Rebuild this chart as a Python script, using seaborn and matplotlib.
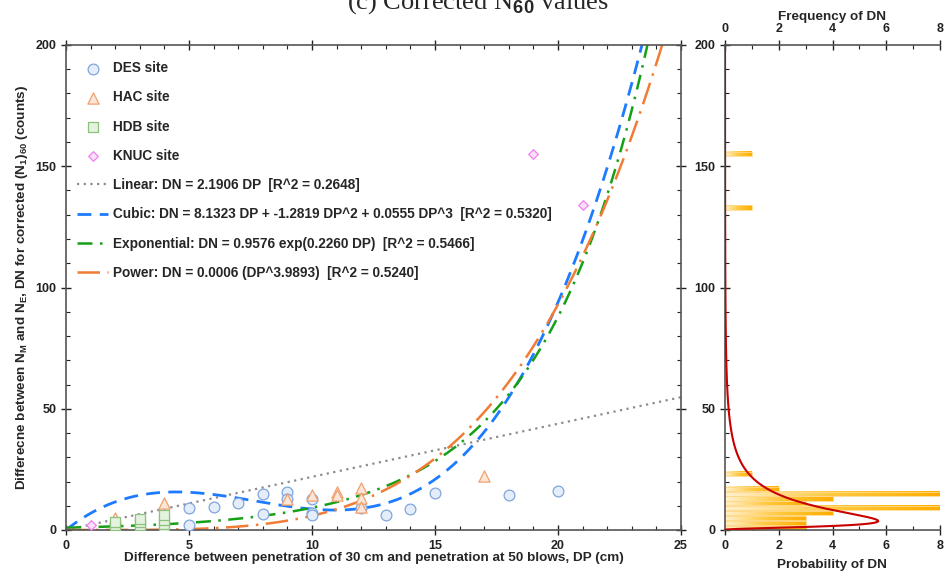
import numpy as np
import pandas as pd
import matplotlib.pyplot as plt
import seaborn as sns
from matplotlib.colors import LinearSegmentedColormap
from matplotlib.ticker import MultipleLocator

# --- data ---
des_dp = [5, 5, 6, 7, 8, 8, 9, 9, 10, 10, 10, 12, 13, 14, 15, 18, 20]
des_dn = [9, 2, 9.5, 11, 15, 6.6, 15.7, 12.8, 12.8, 7, 6.2, 9, 6.2, 8.6, 15.3, 14.4, 16]
hac_dp = [2, 4, 9, 10, 11, 11, 12, 12, 12, 17]
hac_dn = [5, 11, 12.8, 14.4, 15.7, 14.4, 17.3, 13.2, 9.5, 22.3]
hdb_dp = [2, 2, 2, 3, 3, 3, 3, 4, 4, 4, 4]
hdb_dn = [1, 2, 3.5, 1, 2, 3.5, 4.5, 1, 2.5, 4, 6]
knuc_dp = [1, 19, 21]
knuc_dn = [2, 155, 134]

# fitted models (coefficients from the legend)
lin_a = 2.1906
cub_a, cub_b, cub_c = 8.1323, -1.2819, 0.0555
exp_a, exp_b = 0.9576, 0.2260
pow_a, pow_b = 0.0006, 3.9893

# histogram of DN (bin lower edge, count), bin width 2
hist_lo = [0, 2, 4, 6, 8, 10, 12, 14, 16, 22, 132, 154]
hist_n = [3, 3, 3, 4, 8, 3, 4, 8, 2, 1, 1, 1]
bin_w = 2

# log-normal density overlay
ln_mode = 3.7
ln_sigma = 0.95
ln_peak = 5.7

sns.set_style("ticks")
plt.rcParams['font.family'] = ['Liberation Sans', 'DejaVu Sans']
plt.rcParams['font.weight'] = 'bold'
plt.rcParams['axes.labelweight'] = 'bold'
plt.rcParams['mathtext.fontset'] = 'custom'
plt.rcParams['mathtext.bf'] = 'Liberation Sans:bold'
plt.rcParams['mathtext.rm'] = 'Liberation Sans:bold'
plt.rcParams['mathtext.default'] = 'bf'

fig = plt.figure(figsize=(9.46, 5.76), dpi=100)
ax = fig.add_axes([66 / 946, 1 - 530 / 576, (681 - 66) / 946, (530 - 45) / 576])
axh = fig.add_axes([725 / 946, 1 - 530 / 576, (940 - 725) / 946, (530 - 45) / 576])

# scatter of sites
sites = [
    ("DES site", des_dp, des_dn, 'o', '#7FA6DC', '#E4EDF9', 60),
    ("HAC site", hac_dp, hac_dn, '^', '#F0A070', '#FCE6D8', 65),
    ("HDB site", hdb_dp, hdb_dn, 's', '#8CC27A', '#E6F2E0', 55),
    ("KNUC site", knuc_dp, knuc_dn, 'D', '#F080F0', '#FBE0FB', 24),
]
for name, xs, ys, mk, ec, fc, sz in sites:
    df = pd.DataFrame({'DP': xs, 'DN': ys})
    sns.scatterplot(data=df, x='DP', y='DN', marker=mk, s=sz, color=fc,
                    edgecolor=ec, linewidth=0.9, label=name, ax=ax, zorder=3)

# fitted curves
dp = np.linspace(0.001, 25, 600)
fits = pd.DataFrame({
    'DP': dp,
    'lin': lin_a * dp,
    'cub': cub_a * dp + cub_b * dp ** 2 + cub_c * dp ** 3,
    'exp': exp_a * np.exp(exp_b * dp),
    'pow': pow_a * dp ** pow_b,
})
ax.plot(fits.DP, fits.lin, color='#8C8C8C', linestyle=(0, (1, 2)), lw=1.6,
        label='Linear: DN = 2.1906 DP  [R^2 = 0.2648]', zorder=2)
ax.plot(fits.DP, fits.cub, color='#1C7BFF', linestyle=(0, (5, 3)), lw=2.0,
        label='Cubic: DN = 8.1323 DP + -1.2819 DP^2 + 0.0555 DP^3  [R^2 = 0.5320]', zorder=2)
ax.plot(fits.DP, fits.exp, color='#16A016', linestyle=(0, (6, 3, 1, 3)), lw=1.8,
        label='Exponential: DN = 0.9576 exp(0.2260 DP)  [R^2 = 0.5466]', zorder=2)
ax.plot(fits.DP, fits['pow'], color='#F07C35', linestyle=(0, (9, 3, 1, 3)), lw=1.8,
        label='Power: DN = 0.0006 (DP^3.9893)  [R^2 = 0.5240]', zorder=2)

ax.set_xlim(0, 25)
ax.set_ylim(0, 200)
ax.xaxis.set_major_locator(MultipleLocator(5))
ax.xaxis.set_minor_locator(MultipleLocator(1))
ax.yaxis.set_major_locator(MultipleLocator(50))
ax.yaxis.set_minor_locator(MultipleLocator(10))
ax.tick_params(which='both', top=True, right=True, labelsize=9, colors='#222222')
ax.tick_params(which='major', direction='inout', length=7, width=1)
ax.tick_params(which='minor', direction='in', length=3, width=0.8)
for s in ax.spines.values():
    s.set_color('#555555')
    s.set_linewidth(1.2)
ax.set_xlabel('Difference between penetration of 30 cm and penetration at 50 blows, DP (cm)',
              fontsize=9.7, labelpad=0)
ax.set_ylabel(r'Differecne between N$_M$ and N$_E$, DN for corrected (N$_1$)$_{60}$ (counts)',
              fontsize=9.7, labelpad=4)
ax.legend(loc='upper left', frameon=False, fontsize=9.8, labelspacing=1.12,
          handlelength=2.3, handletextpad=0.35, borderpad=0.4, borderaxespad=0,
          bbox_to_anchor=(0.009, 0.978))

# histogram with gradient bars
cmap = LinearSegmentedColormap.from_list('grad', ['#FFF0CC', '#FFC940', '#FFAE00'])
grad = np.linspace(0, 1, 64).reshape(1, -1)
for lo, n in zip(hist_lo, hist_n):
    axh.imshow(grad, cmap=cmap, aspect='auto', extent=(0, n, lo + 0.15, lo + bin_w - 0.15),
               zorder=1, interpolation='bilinear')
    axh.barh(lo + bin_w / 2, n, height=bin_w - 0.3, color='none',
             edgecolor='#FFD98A', linewidth=0.6, zorder=2)

dn = np.linspace(0.05, 200, 2000)
ln_mu = np.log(ln_mode) + ln_sigma ** 2
dens = np.exp(-(np.log(dn) - ln_mu) ** 2 / (2 * ln_sigma ** 2)) / dn
dens = dens / dens.max() * ln_peak
sns.lineplot(x=dens, y=dn, sort=False, color='#C80000', lw=1.5, ax=axh, zorder=3)

axh.set_xlim(0, 8)
axh.set_ylim(0, 200)
axh.xaxis.set_major_locator(MultipleLocator(2))
axh.xaxis.set_minor_locator(MultipleLocator(1))
axh.yaxis.set_major_locator(MultipleLocator(50))
axh.yaxis.set_minor_locator(MultipleLocator(10))
axh.tick_params(which='both', top=True, labeltop=True, right=False, labelsize=9,
                colors='#222222')
axh.tick_params(which='major', direction='inout', length=7, width=1)
axh.tick_params(which='minor', direction='in', length=3, width=0.8)
axh.spines['right'].set_visible(False)
for s in ['left', 'top', 'bottom']:
    axh.spines[s].set_color('#555555')
    axh.spines[s].set_linewidth(1.2)
axh.set_xlabel('')
axh.set_ylabel('')
fig.text(832 / 946, 1 - 565 / 576, 'Probability of DN', fontsize=9.7, ha='center', va='center')
fig.text(832 / 946, 1 - 17 / 576, 'Frequency of DN', fontsize=9.7, ha='center', va='center')

# title cut by the top edge, as in the source image
fig.text(0.505, 1 - 9 / 576, r'(c) Corrected N$_{60}$ values', fontsize=19,
         family='Liberation Serif', weight='normal', ha='center', va='baseline')

fig.savefig('out.png', dpi=100)
